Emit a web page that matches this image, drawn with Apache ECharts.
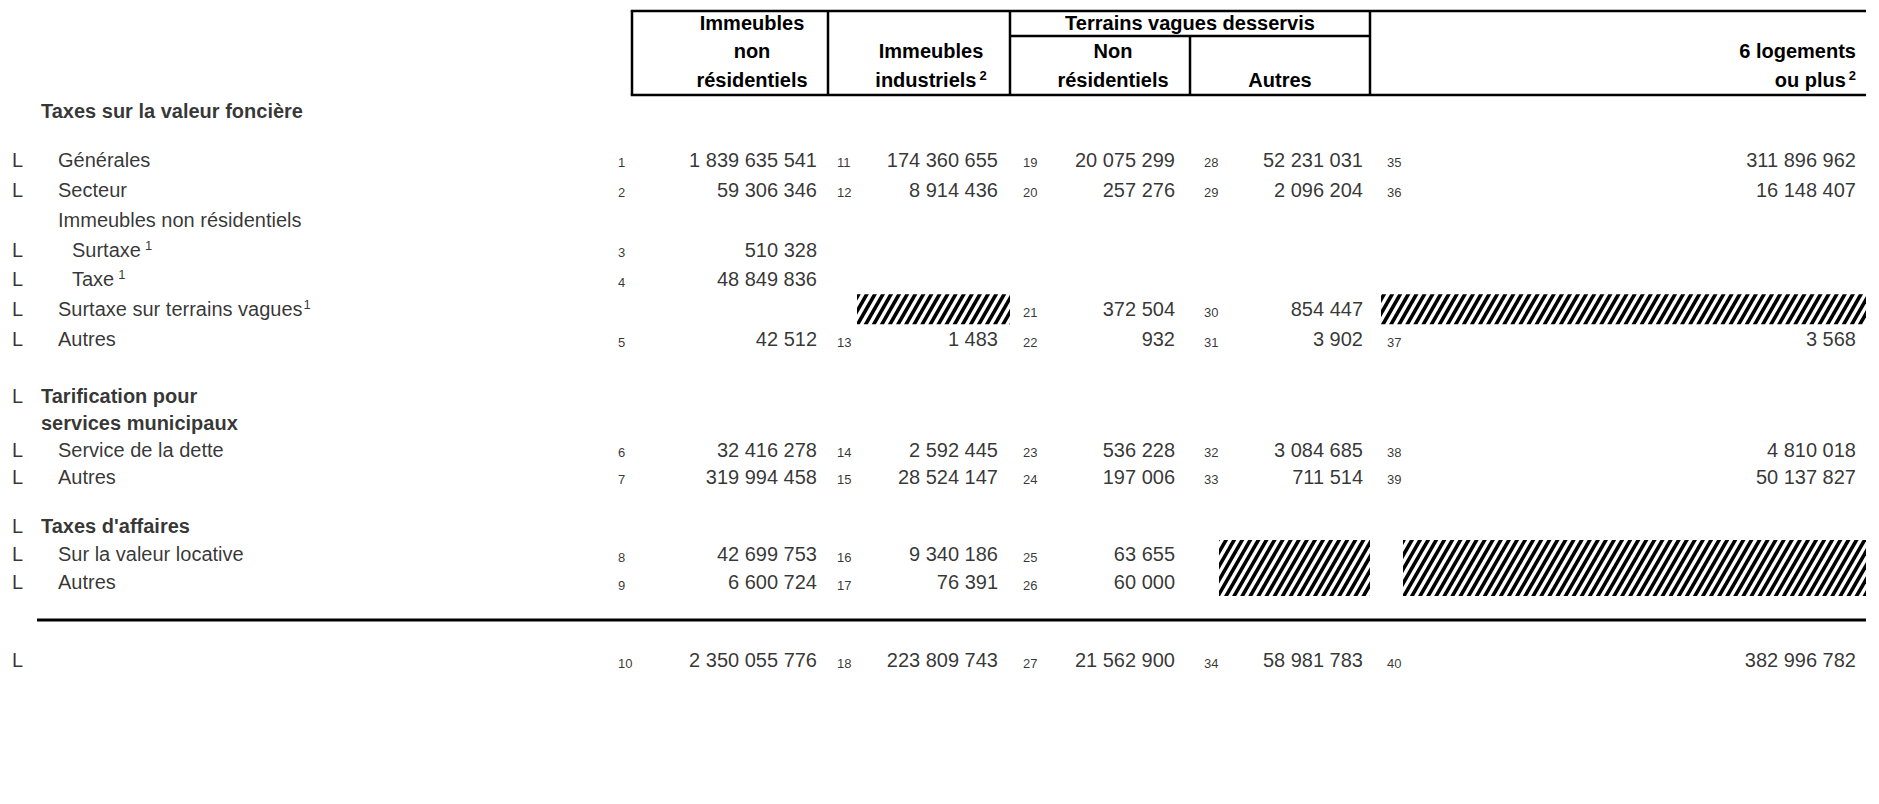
<!DOCTYPE html>
<html>
<head>
<meta charset="utf-8">
<script src="https://cdn.jsdelivr.net/npm/echarts@6.0.0/dist/echarts.min.js"></script>
<style>
html,body{margin:0;padding:0;background:#fff;}
#chart{width:1879px;height:804px;}
</style>
</head>
<body>
<div id="chart"></div>
<script>
// ---------------- DATA ----------------
// Column headers (three header lines per column) and superscripts
const headerLines = [
  ['Immeubles', 'non', 'résidentiels'],
  ['', 'Immeubles', 'industriels'],
  ['', 'Non', 'résidentiels'],
  ['', '', 'Autres'],
  ['', '6 logements', 'ou plus']
];
const headerSup = ['', '2', '', '', '2'];
const spanHeader = 'Terrains vagues desservis';   // spans columns 3 and 4

// Row labels by section
const titleT = ['Taxes sur la valeur foncière'];
const labelsA = ['Générales', 'Secteur', 'Immeubles non résidentiels', 'Surtaxe', 'Taxe', 'Surtaxe sur terrains vagues', 'Autres'];
const labelsB = ['Tarification pour', 'services municipaux', 'Service de la dette', 'Autres'];
const labelsC = ["Taxes d'affaires", 'Sur la valeur locative', 'Autres'];
const labelsD = [''];

const markL_T = [0];
const markL_A = [1, 1, 0, 1, 1, 1, 1];
const markL_B = [1, 0, 1, 1];
const markL_C = [1, 1, 1];
const markL_D = [1];

const level_T = ['b'];
const level_A = ['i', 'i', 'i', 's', 's', 'i', 'i'];
const level_B = ['b', 'b', 'i', 'i'];
const level_C = ['b', 'i', 'i'];
const level_D = ['i'];

const sup_A = ['', '', '', '1', '1', '1', ''];

// Values per column ('X' = confidential / hatched cell, null = empty)
const immNonRes = {
  A: [1839635541, 59306346, null, 510328, 48849836, null, 42512],
  B: [null, null, 32416278, 319994458],
  C: [null, 42699753, 6600724],
  D: [2350055776]
};
const immInd = {
  A: [174360655, 8914436, null, null, null, 'X', 1483],
  B: [null, null, 2592445, 28524147],
  C: [null, 9340186, 76391],
  D: [223809743]
};
const tvNonRes = {
  A: [20075299, 257276, null, null, null, 372504, 932],
  B: [null, null, 536228, 197006],
  C: [null, 63655, 60000],
  D: [21562900]
};
const tvAutres = {
  A: [52231031, 2096204, null, null, null, 854447, 3902],
  B: [null, null, 3084685, 711514],
  C: [null, 'X', 'X'],
  D: [58981783]
};
const six = {
  A: [311896962, 16148407, null, null, null, 'X', 3568],
  B: [null, null, 4810018, 50137827],
  C: [null, 'X', 'X'],
  D: [382996782]
};

// Line numbers per column
const no1 = { A: [1, 2, null, 3, 4, null, 5], B: [null, null, 6, 7], C: [null, 8, 9], D: [10] };
const no2 = { A: [11, 12, null, null, null, null, 13], B: [null, null, 14, 15], C: [null, 16, 17], D: [18] };
const no3 = { A: [19, 20, null, null, null, 21, 22], B: [null, null, 23, 24], C: [null, 25, 26], D: [27] };
const no4 = { A: [28, 29, null, null, null, 30, 31], B: [null, null, 32, 33], C: [null, null, null], D: [34] };
const no5 = { A: [35, 36, null, null, null, null, 37], B: [null, null, 38, 39], C: [null, null, null], D: [40] };

const columnValues = [immNonRes, immInd, tvNonRes, tvAutres, six];
const columnNumbers = [no1, no2, no3, no4, no5];

// ---------------- LAYOUT / STYLE ----------------
const F = '"Liberation Sans", Arial, Helvetica, sans-serif';
const secLabels = { T: titleT, A: labelsA, B: labelsB, C: labelsC, D: labelsD };
const secMarkL = { T: markL_T, A: markL_A, B: markL_B, C: markL_C, D: markL_D };
const secLevel = { T: level_T, A: level_A, B: level_B, C: level_C, D: level_D };
const secSup = { A: sup_A };
const secLayout = {
  T: { top: 97, height: 28 },
  A: { top: 145, height: 209 },
  B: { top: 383, height: 107 },
  C: { top: 512, height: 84 },
  D: { top: 646, height: 28 }
};
const colLayout = [
  { left: 632, right: 828, valPad: 11, idxOff: -14 },
  { left: 828, right: 1010, valPad: 12, idxOff: 9 },
  { left: 1010, right: 1190, valPad: 15, idxOff: 13 },
  { left: 1190, right: 1370, valPad: 7, idxOff: 14 },
  { left: 1370, right: 1866, valPad: 10, idxOff: 17 }
];
const hatchInset = { '1A': 29, '4A': 11, '3C': 29, '4C': 33 };
const indent = { b: 41, i: 58, s: 72 };
const HATCH_ANGLE = Math.PI / 3, HATCH_P = 7, HATCH_W = 3.6;

const fmt = v => String(v).replace(/\B(?=(\d{3})+(?!\d))/g, ' ');

// ---------------- BUILD ----------------
const option = {
  animation: false,
  backgroundColor: '#fff',
  grid: [], xAxis: [], yAxis: [], series: [], graphic: []
};
let gi = 0;
function addGrid(left, right, lay, rows, key) {
  option.grid.push({ left: left, top: lay.top, width: right - left, height: lay.height, containLabel: false });
  option.xAxis.push({ gridIndex: gi, type: 'value', min: 0, max: 1, show: false });
  option.yAxis.push({ gridIndex: gi, type: 'category', data: rows.map((_, i) => key + i), inverse: true, show: false });
  return gi++;
}

function clipHalf(poly, nx, ny, c) {
  const out = [];
  for (let i = 0; i < poly.length; i++) {
    const a = poly[i], b = poly[(i + 1) % poly.length];
    const da = a[0] * nx + a[1] * ny - c, db = b[0] * nx + b[1] * ny - c;
    if (da >= 0) out.push(a);
    if ((da >= 0) !== (db >= 0)) {
      const t = da / (da - db);
      out.push([a[0] + t * (b[0] - a[0]), a[1] + t * (b[1] - a[1])]);
    }
  }
  return out;
}
function hatchItem(params, api) {
  const cs = params.coordSys;
  const c = api.coord([1, api.value(1)]);
  const bh = api.size([0, 1])[1];
  const inset = api.value(2);
  const x0 = cs.x + inset, x1 = cs.x + cs.width, y0 = c[1] - bh / 2, y1 = c[1] + bh / 2;
  const rect = [[x0, y0], [x1, y0], [x1, y1], [x0, y1]];
  const nx = Math.sin(HATCH_ANGLE), ny = Math.cos(HATCH_ANGLE);
  const dots = rect.map(p => p[0] * nx + p[1] * ny);
  const lo = Math.min.apply(null, dots), hi = Math.max.apply(null, dots);
  const children = [];
  for (let k = Math.floor(lo / HATCH_P) * HATCH_P; k < hi; k += HATCH_P) {
    let poly = clipHalf(rect, nx, ny, k);
    poly = clipHalf(poly, -nx, -ny, -(k + HATCH_W));
    if (poly.length >= 3) children.push({ type: 'polygon', shape: { points: poly }, style: { fill: '#000' } });
  }
  return { type: 'group', children: children };
}

const richLabel = {
  n: { fontSize: 20, fontFamily: F, color: '#000', lineHeight: 22 },
  b: { fontSize: 20, fontFamily: F, fontWeight: 'bold', color: '#000', lineHeight: 22 },
  s: { fontSize: 13, fontFamily: F, color: '#000', lineHeight: 13, verticalAlign: 'top', padding: [0, 0, 0, 4] },
  t: { fontSize: 13, fontFamily: F, color: '#000', lineHeight: 13, verticalAlign: 'top', padding: [0, 0, 0, 1] }
};

['T', 'A', 'B', 'C', 'D'].forEach(sec => {
  const rows = secLabels[sec];
  const lay = secLayout[sec];
  // label column
  const g = addGrid(0, 632, lay, rows, sec);
  const lData = [], tData = [];
  rows.forEach((txt, i) => {
    if (secMarkL[sec][i]) lData.push([0, i]);
    if (txt) {
      const lv = secLevel[sec][i];
      const sp = secSup[sec] ? secSup[sec][i] : '';
      let s = (lv === 'b' ? '{b|' : '{n|') + txt + '}';
      if (sp) s += (lv === 's' ? '{s|' : '{t|') + sp + '}';
      tData.push({ value: [0, i], rich: s, label: { offset: [indent[lv], 0] } });
    }
  });
  option.series.push({
    type: 'scatter', xAxisIndex: g, yAxisIndex: g, silent: true, symbolSize: 1,
    itemStyle: { color: 'rgba(0,0,0,0)' }, data: lData,
    label: { show: true, position: 'inside', align: 'left', verticalAlign: 'middle', offset: [12, 0],
      formatter: 'L', fontSize: 20, fontFamily: F, color: '#000' }
  });
  option.series.push({
    type: 'scatter', xAxisIndex: g, yAxisIndex: g, silent: true, symbolSize: 1,
    itemStyle: { color: 'rgba(0,0,0,0)' }, data: tData,
    label: { show: true, position: 'inside', align: 'left', verticalAlign: 'middle',
      formatter: p => p.data.rich, rich: richLabel, fontSize: 20, fontFamily: F, color: '#000' }
  });
  if (sec === 'T') return;
  // data columns
  colLayout.forEach((cl, ci) => {
    const vals = columnValues[ci][sec];
    const nums = columnNumbers[ci][sec];
    const gc = addGrid(cl.left, cl.right, lay, rows, sec + ci + '_');
    const vData = [], nData = [], hData = [];
    vals.forEach((v, i) => {
      if (v === 'X') hData.push([1, i, hatchInset[ci + sec] || 20]);
      else if (v !== null) vData.push([1, i, v]);
    });
    nums.forEach((n, i) => { if (n !== null) nData.push([0, i, n]); });
    option.series.push({
      type: 'scatter', xAxisIndex: gc, yAxisIndex: gc, silent: true, symbolSize: 1,
      itemStyle: { color: 'rgba(0,0,0,0)' }, data: vData,
      label: { show: true, position: 'inside', align: 'right', verticalAlign: 'middle', offset: [-cl.valPad, 0],
        formatter: p => fmt(p.value[2]), fontSize: 20, fontFamily: F, color: '#000' }
    });
    option.series.push({
      type: 'scatter', xAxisIndex: gc, yAxisIndex: gc, silent: true, symbolSize: 1,
      itemStyle: { color: 'rgba(0,0,0,0)' }, data: nData,
      label: { show: true, position: 'inside', align: 'left', verticalAlign: 'middle', offset: [cl.idxOff, 3],
        formatter: p => String(p.value[2]), fontSize: 13, fontFamily: F, color: '#000' }
    });
    if (hData.length) {
      option.series.push({
        type: 'custom', xAxisIndex: gc, yAxisIndex: gc, silent: true,
        renderItem: hatchItem, encode: { x: 0, y: 1 }, data: hData
      });
    }
  });
});

// ---------------- HEADER (graphic) ----------------
const LW = 2.5;
const boxTop = 11, boxMid = 36, boxBot = 95, boxRight = 1866;
function hline(x1, x2, y, w) {
  option.graphic.push({ type: 'line', silent: true, shape: { x1: x1, y1: y, x2: x2, y2: y }, style: { stroke: '#000', lineWidth: w || LW } });
}
function vline(x, y1, y2) {
  option.graphic.push({ type: 'line', silent: true, shape: { x1: x, y1: y1, x2: x, y2: y2 }, style: { stroke: '#000', lineWidth: LW } });
}
hline(632 - LW / 2, boxRight, boxTop);
hline(632 - LW / 2, boxRight, boxBot);
hline(1010, 1370, boxMid);
[632, 828, 1010, 1370].forEach(x => vline(x, boxTop, boxBot));
vline(1190, boxMid, boxBot);
hline(37, boxRight, 620, 3);

const headRowY = [23, 51, 80];
const headX = [752, 931, 1113, 1280, 1856];
const headAlign = ['center', 'center', 'center', 'center', 'right'];
const headRich = {
  b: { fontSize: 20, fontFamily: F, fontWeight: 'bold', color: '#000', lineHeight: 22 },
  s: { fontSize: 13, fontFamily: F, fontWeight: 'bold', color: '#000', lineHeight: 13, verticalAlign: 'top', padding: [0, 0, 0, 3] }
};
function headText(x, y, txt, align) {
  option.graphic.push({
    type: 'text', silent: true, x: x, y: y,
    style: { text: txt, rich: headRich, fill: '#000', fontSize: 20, fontWeight: 'bold', fontFamily: F,
      align: align, verticalAlign: 'middle', textAlign: align, textVerticalAlign: 'middle' }
  });
}
headerLines.forEach((lines, ci) => {
  lines.forEach((t, li) => {
    if (!t) return;
    let s = '{b|' + t + '}';
    if (li === 2 && headerSup[ci]) s += '{s|' + headerSup[ci] + '}';
    headText(headX[ci], headRowY[li], s, headAlign[ci]);
  });
});
headText(1190, headRowY[0], '{b|' + spanHeader + '}', 'center');

const chart = echarts.init(document.getElementById('chart'), null, { renderer: 'svg' });
chart.setOption(option);
</script>
</body>
</html>
